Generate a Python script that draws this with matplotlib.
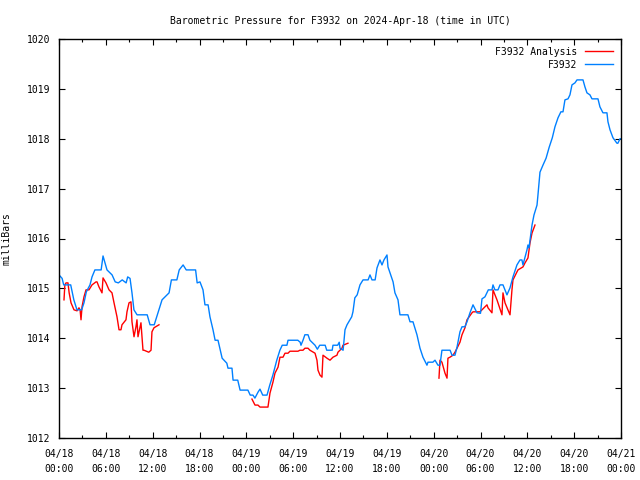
import numpy as np
import matplotlib
matplotlib.use("Agg")
import matplotlib.pyplot as plt

nan = np.nan

# Hours since 2024-04-18 00:00 UTC
blue_hours = [0.0, 0.4, 0.6, 1.5, 1.9, 2.3, 2.9, 3.2, 3.5, 3.97, 4.23, 4.6, 5.4, 5.64, 6.15, 6.8, 7.2, 7.6,
              8.1, 8.6, 8.8, 9.1, 9.35, 9.6, 10.0, 11.3, 11.66, 12.2, 12.6, 13.2, 14.1, 14.4, 15.1, 15.4,
              15.9, 16.3, 17.5, 17.7, 18.06, 18.45, 18.7, 19.1, 19.34, 19.73, 20.0, 20.37, 20.9, 21.5,
              21.65, 22.16, 22.3, 22.9, 23.2, 24.2, 24.5, 24.85, 25.1, 25.5, 25.75, 26.1, 26.65, 27.0,
              27.4, 27.9, 28.3, 28.6, 29.2, 29.34, 30.6, 30.9, 31.0, 31.26, 31.5, 31.9, 32.15, 32.8,
              33.1, 33.4, 34.1, 34.3, 35.0, 35.1, 35.7, 35.9, 36.0, 36.4, 36.64, 36.9, 37.5, 37.66,
              37.9, 38.2, 38.56, 38.95, 39.6, 39.84, 40.1, 40.5, 40.74, 41.12, 41.38, 41.63, 42.02,
              42.15, 42.8, 43.04, 43.43, 43.68, 44.7, 44.97, 45.35, 45.86, 46.25, 46.63, 47.14, 47.27,
              47.9, 48.17, 48.55, 48.81, 49.06, 50.1, 50.35, 50.73, 50.99, 51.37, 51.63, 52.0, 52.27,
              52.65, 53.04, 53.55, 54.0, 54.19, 54.57, 55.0, 55.47, 55.6, 55.85, 56.24, 56.5, 56.88,
              57.39, 57.78, 58.16, 58.67, 59.06, 59.31, 59.44, 59.95, 60.08, 60.21, 60.6, 60.85, 61.24,
              61.36, 61.62, 62.0, 62.4, 62.8, 63.2, 63.54, 63.93, 64.3, 64.57, 64.82, 65.21, 65.46,
              65.72, 66.1, 66.36, 67.13, 67.38, 67.64, 68.02, 68.28, 69.05, 69.3, 69.69, 70.2, 70.33,
              70.59, 70.97, 71.48, 71.6, 71.87, 72.0]
blue_mb = [1015.27, 1015.20, 1015.07, 1015.07, 1014.77, 1014.57, 1014.57, 1014.71, 1014.93, 1015.07,
           1015.23, 1015.37, 1015.37, 1015.65, 1015.37, 1015.27, 1015.13, 1015.11, 1015.17, 1015.11,
           1015.23, 1015.20, 1014.91, 1014.57, 1014.47, 1014.47, 1014.27, 1014.27, 1014.47, 1014.77,
           1014.91, 1015.17, 1015.17, 1015.37, 1015.47, 1015.37, 1015.37, 1015.11, 1015.13, 1014.97,
           1014.67, 1014.67, 1014.43, 1014.17, 1013.96, 1013.96, 1013.60, 1013.50, 1013.40, 1013.40,
           1013.16, 1013.16, 1012.96, 1012.96, 1012.86, 1012.86, 1012.80, 1012.92, 1012.98, 1012.86,
           1012.86, 1013.06, 1013.26, 1013.56, 1013.76, 1013.86, 1013.86, 1013.96, 1013.96, 1013.92,
           1013.86, 1013.96, 1014.07, 1014.07, 1013.96, 1013.86, 1013.78, 1013.86, 1013.86, 1013.76,
           1013.76, 1013.86, 1013.86, 1013.92, 1013.80, 1013.76, 1014.17, 1014.27, 1014.43, 1014.53,
           1014.81, 1014.87, 1015.07, 1015.17, 1015.17, 1015.27, 1015.17, 1015.17, 1015.41, 1015.57,
           1015.47, 1015.57, 1015.67, 1015.43, 1015.13, 1014.91, 1014.77, 1014.47, 1014.47, 1014.33,
           1014.33, 1014.07, 1013.80, 1013.62, 1013.46, 1013.52, 1013.52, 1013.56, 1013.46, 1013.46,
           1013.76, 1013.76, 1013.66, 1013.66, 1013.82, 1014.13, 1014.23, 1014.23, 1014.33, 1014.51,
           1014.67, 1014.51, 1014.50, 1014.79, 1014.83, 1014.97, 1014.97, 1015.07, 1014.97, 1014.97,
           1015.07, 1015.07, 1014.87, 1015.01, 1015.23, 1015.47, 1015.57, 1015.57, 1015.47, 1015.77,
           1015.87, 1015.81, 1016.27, 1016.47, 1016.67, 1016.87, 1017.33, 1017.47, 1017.61, 1017.83,
           1018.02, 1018.24, 1018.42, 1018.54, 1018.54, 1018.78, 1018.80, 1018.88, 1019.08, 1019.12,
           1019.18, 1019.18, 1019.04, 1018.92, 1018.88, 1018.80, 1018.80, 1018.64, 1018.52, 1018.52,
           1018.34, 1018.18, 1018.02, 1017.91, 1017.91, 1018.00, 1018.00]

red_hours = [0.64, 0.75, 0.9, 1.15, 1.3, 1.54, 1.92, 2.31, 2.56, 2.7, 2.82, 2.95, 3.2, 3.46, 3.84, 4.23,
             4.74, 4.87, 5.12, 5.51, 5.64, 6.02, 6.41, 6.79, 7.05, 7.43, 7.69, 7.94, 8.07, 8.58, 8.71,
             8.97, 9.22, 9.35, 9.61, 9.86, 9.99, 10.12, 10.5, 10.76, 10.89, 11.5, 11.79, 11.91, 12.17,
             12.81,
             18.0,
             24.72, 25.11, 25.49, 25.75, 26.77, 27.03, 27.41, 27.67, 28.06, 28.31, 28.7, 28.95, 29.34,
             29.59, 30.62, 30.87, 31.26, 31.51, 31.9, 32.15, 32.8, 33.05, 33.18, 33.44, 33.69, 33.82,
             34.33, 34.72, 35.1, 35.61, 35.74, 36.25, 36.38, 37.02,
             42.0,
             48.68, 48.81, 49.06, 49.45, 49.71, 49.83, 50.09, 50.47, 50.73, 50.99, 51.37, 51.63, 52.01,
             52.27, 52.91, 53.04, 53.68, 53.93, 54.19, 54.57, 54.83, 54.96, 55.47, 55.6, 56.11, 56.75,
             56.88, 57.14, 57.78, 58.03, 58.16, 58.67, 58.8, 59.44, 59.7, 60.08, 60.34, 60.6, 60.98]
red_mb = [1014.77, 1015.07, 1015.11, 1015.11, 1014.91, 1014.71, 1014.57, 1014.55, 1014.61, 1014.57,
          1014.37, 1014.63, 1014.83, 1014.97, 1014.97, 1015.07, 1015.13, 1015.13, 1015.03, 1014.91,
          1015.21, 1015.11, 1014.97, 1014.91, 1014.71, 1014.43, 1014.17, 1014.17, 1014.27, 1014.37,
          1014.53, 1014.71, 1014.73, 1014.33, 1014.03, 1014.23, 1014.37, 1014.03, 1014.31, 1013.76,
          1013.76, 1013.72, 1013.76, 1014.13, 1014.21, 1014.27,
          nan,
          1012.78, 1012.66, 1012.66, 1012.62, 1012.62, 1012.90, 1013.12, 1013.30, 1013.42, 1013.62,
          1013.62, 1013.70, 1013.70, 1013.74, 1013.74, 1013.76, 1013.76, 1013.80, 1013.80, 1013.76,
          1013.70, 1013.56, 1013.36, 1013.26, 1013.22, 1013.66, 1013.60, 1013.56, 1013.62, 1013.66,
          1013.72, 1013.80, 1013.86, 1013.90,
          nan,
          1013.20, 1013.56, 1013.52, 1013.30, 1013.20, 1013.60, 1013.62, 1013.66, 1013.72, 1013.80,
          1013.92, 1014.07, 1014.21, 1014.37, 1014.51, 1014.53, 1014.53, 1014.53, 1014.57, 1014.63,
          1014.67, 1014.61, 1014.51, 1014.97, 1014.77, 1014.47, 1014.91, 1014.71, 1014.47, 1014.97,
          1015.17, 1015.33, 1015.37, 1015.43, 1015.51, 1015.61, 1015.91, 1016.11, 1016.27]

tick_hours = [0, 6, 12, 18, 24, 30, 36, 42, 48, 54, 60, 66, 72]
tick_labels = ["04/18\n00:00", "04/18\n06:00", "04/18\n12:00", "04/18\n18:00",
               "04/19\n00:00", "04/19\n06:00", "04/19\n12:00", "04/19\n18:00",
               "04/20\n00:00", "04/20\n06:00", "04/20\n12:00", "04/20\n18:00",
               "04/21\n00:00"]
y_ticks = [1012, 1013, 1014, 1015, 1016, 1017, 1018, 1019, 1020]

plt.rcParams['font.family'] = ['DejaVu Sans Mono']
plt.rcParams['font.size'] = 7

fig = plt.figure(figsize=(6.4, 4.8), dpi=100)
ax = fig.add_axes([59/640, 1-438/480, (621-59)/640, (438-39)/480])

ax.plot(red_hours, red_mb, color='#ff0000', lw=1.0, label='F3932 Analysis')
ax.plot(blue_hours, blue_mb, color='#0080ff', lw=1.0, label='F3932')

ax.set_xlim(0, 72)
ax.set_ylim(1012, 1020)
ax.set_xticks(tick_hours)
ax.set_xticklabels(tick_labels, linespacing=1.6)
ax.set_xticks(np.arange(3, 72, 6), minor=True)
ax.set_yticks(y_ticks)
ax.set_yticklabels([str(v) for v in y_ticks])
ax.tick_params(which='major', direction='in', length=4.5, width=0.8, top=True, right=True, pad=6)
ax.tick_params(axis='x', which='major', pad=8)
ax.tick_params(which='minor', direction='in', length=2.5, width=0.8, top=True, right=True)
for s in ax.spines.values():
    s.set_linewidth(1.0)

ax.set_title("Barometric Pressure for F3932 on 2024-Apr-18 (time in UTC)", fontsize=7, pad=11)
ax.set_ylabel("milliBars", fontsize=7, labelpad=11)

ax.legend(loc='upper right', frameon=False, markerfirst=False, handlelength=2.9,
          handletextpad=0.8, labelspacing=0.3, borderaxespad=0.4, fontsize=7)

fig.savefig("out.png", dpi=100)
